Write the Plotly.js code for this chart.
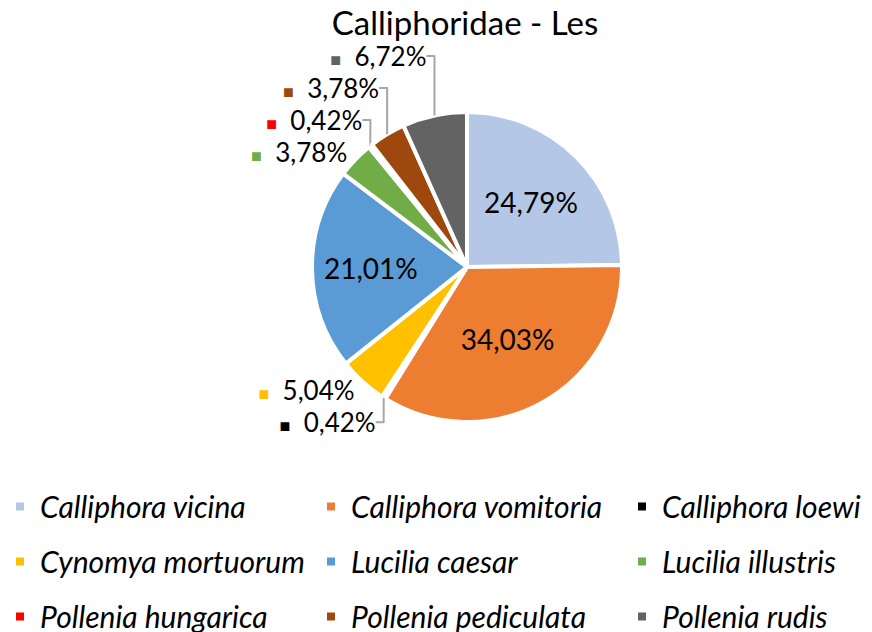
<!DOCTYPE html>
<html>
<head>
<meta charset="utf-8">
<script src="https://cdn.plot.ly/plotly-3.0.1.min.js"></script>
<style>html,body{margin:0;padding:0;background:#fff;overflow:hidden;width:872px;height:632px;}</style>
</head>
<body>
<div id="chart" style="width:940px;height:660px;"></div>
<script>
const species = ["Calliphora vicina","Calliphora vomitoria","Calliphora loewi","Cynomya mortuorum","Lucilia caesar","Lucilia illustris","Pollenia hungarica","Pollenia pediculata","Pollenia rudis"];
const counts = [59, 81, 1, 12, 50, 9, 1, 9, 16];
const colors = ["#B4C7E7","#ED7D31","#000000","#FFC000","#5B9BD5","#70AD47","#FF0000","#9E480E","#636363"];
const labelInside = [true, true, false, false, true, false, false, false, false];

const FONT = "Lato, 'Open Sans', sans-serif";
const texttemplate = labelInside.map((inside, i) => inside
  ? "%{percent:.2%}"
  : "<span style=\"font-size:18px;color:" + colors[i] + "\">■</span>  <span style=\"color:#000000\">%{percent:.2%}</span>");
const textposition = labelInside.map(inside => inside ? "inside" : "outside");
const legendLabels = species.map(s => "<span style=\"font-size:30px;baseline-shift:4px\">" + s + "</span>");

const trace = {
  type: "pie",
  labels: legendLabels,
  values: counts,
  sort: false,
  direction: "clockwise",
  rotation: 0,
  marker: {colors: colors, line: {color: "#ffffff", width: 4}},
  texttemplate: texttemplate,
  textposition: textposition,
  insidetextorientation: "horizontal",
  textfont: {family: FONT, size: 28, color: "#000000"},
  insidetextfont: {family: FONT, size: 28, color: "#000000"},
  outsidetextfont: {family: FONT, size: 26, color: "#A6A6A6"},
  hoverinfo: "percent",
  domain: {x: [0.3319, 0.6617], y: [0.3606, 0.8303]},
  automargin: false
};

const layout = {
  width: 940,
  height: 660,
  margin: {l: 0, r: 0, t: 0, b: 0},
  paper_bgcolor: "#ffffff",
  separators: ",.",
  title: {text: "Calliphoridae - Les", x: 0.4947, xanchor: "center", y: 0.9645, yanchor: "middle",
          font: {family: FONT, size: 33, color: "#000000"}},
  showlegend: true,
  legend: {
    orientation: "h",
    x: 0, xanchor: "left",
    y: 0.2818, yanchor: "top",
    entrywidth: 266, entrywidthmode: "pixels",
    font: {family: FONT, size: 40, color: "#000000", style: "italic"},
    traceorder: "normal"
  }
};

Plotly.newPlot("chart", [trace], layout, {displayModeBar: false, staticPlot: true});
</script>
</body>
</html>
